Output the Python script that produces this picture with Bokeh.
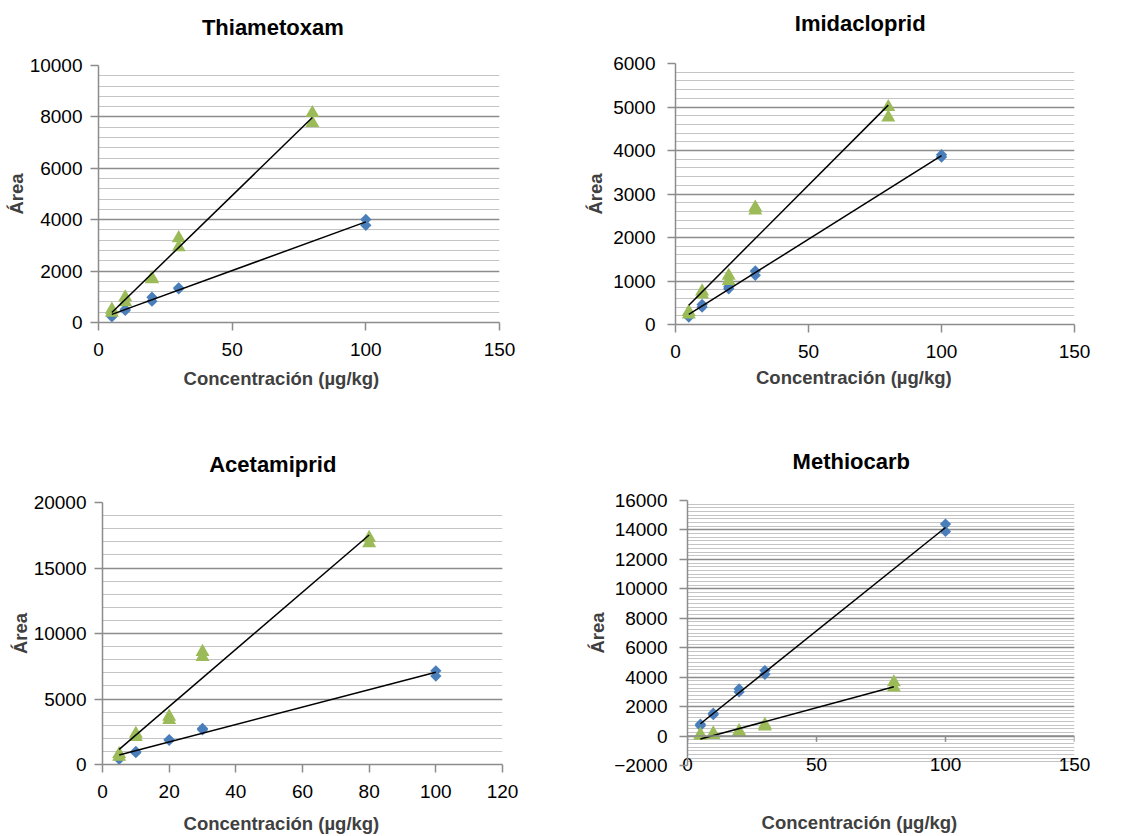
import numpy as np
from bokeh.plotting import figure
from bokeh.layouts import column, row
from bokeh.models import Range1d, SingleIntervalTicker, Title, Span
from bokeh.embed import file_html
from bokeh.resources import INLINE

# ---------------- data ----------------
conc_a = [5, 5, 10, 10, 20, 20, 30, 30, 100, 100]   # blue diamonds
conc_b = [5, 5, 10, 10, 20, 20, 30, 30, 80, 80]     # green triangles

thia_a = [220, 300, 470, 520, 830, 985, 1310, 1350, 3780, 4010]
thia_b = [380, 500, 790, 980, 1680, 1720, 2930, 3280, 7760, 8150]

imid_a = [170, 240, 400, 460, 820, 870, 1130, 1230, 3850, 3905]
imid_b = [230, 290, 690, 760, 1000, 1120, 2620, 2690, 4760, 5000]

acet_a = [400, 550, 900, 1000, 1850, 1900, 2650, 2750, 6750, 7150]
acet_b = [600, 800, 2100, 2350, 3400, 3650, 8200, 8600, 16900, 17300]

meth_a = [700, 800, 1450, 1550, 3000, 3200, 4200, 4450, 13900, 14400]
meth_b = [20, 100, 80, 180, 250, 330, 650, 760, 3300, 3650]

titles = ["Thiametoxam", "Imidacloprid", "Acetamiprid", "Methiocarb"]
x_label = "Concentración (µg/kg)"
y_label = "Área"

# ---------------- style ----------------
FONT = "Liberation Sans"
BLUE = "#4a7ebb"
GREEN = "#9bbb59"
MAJOR = "#8c8c8c"
MINOR = "#c4c4c4"
AXIS = "#8c8c8c"


def spacer(px):
    return Title(text=" ", text_font_size="1px", standoff=max(px - 3, 0))


def make_panel(title, ya, yb, xmax, xstep, ymin, ymax, ystep, nminor,
               size, borders, ystandoff, title_off, xlab_off, gaps,
               xlab_standoff=0, axis_at_zero=False):
    w, h = size
    left, right, top, bottom = borders
    p = figure(width=w, height=h, output_backend="svg", toolbar_location=None,
               x_range=Range1d(0, xmax), y_range=Range1d(ymin, ymax),
               min_border_left=left, min_border_right=right,
               min_border_top=top, min_border_bottom=bottom)
    p.outline_line_color = None
    p.xgrid.grid_line_color = None
    xt = SingleIntervalTicker(interval=xstep, num_minor_ticks=0)
    yt = SingleIntervalTicker(interval=ystep, num_minor_ticks=nminor)
    p.xaxis.ticker = xt
    p.yaxis.ticker = yt
    p.ygrid.ticker = yt
    p.ygrid.grid_line_color = MAJOR
    p.ygrid.grid_line_width = 1.5
    p.ygrid.minor_grid_line_color = MINOR
    p.ygrid.minor_grid_line_width = 1.2
    for ax in (p.xaxis, p.yaxis):
        ax.axis_line_color = AXIS
        ax.axis_line_width = 1.5
        ax.major_tick_line_color = AXIS
        ax.major_tick_line_width = 1.5
        ax.major_tick_in = 0
        ax.major_tick_out = 8
        ax.minor_tick_line_color = None
        ax.major_label_text_font = FONT
        ax.major_label_text_font_size = "19px"
        ax.major_label_text_color = "#000000"
    p.yaxis.major_label_standoff = ystandoff
    p.xaxis.major_label_standoff = 12

    if axis_at_zero:
        p.xaxis.axis_line_color = None
        p.xaxis.major_tick_line_color = None
        p.xaxis.major_tick_out = 0
        p.xaxis.major_label_standoff = -8
        p.add_layout(Span(location=0, dimension="width", line_color=AXIS, line_width=1.5))
        ticks = list(range(0, xmax + 1, xstep))
        p.segment(x0=ticks, y0=[0] * len(ticks), x1=ticks, y1=[-0.022 * (ymax - ymin)] * len(ticks),
                  line_color=AXIS, line_width=1.5)

    p.scatter(conc_a, ya, marker="square", angle=np.pi / 4, size=8,
              fill_color=BLUE, line_color=None)
    p.scatter(conc_b, yb, marker="triangle", size=14,
              fill_color=GREEN, line_color=None)
    for xs, ys in ((conc_a, ya), (conc_b, yb)):
        k, b = np.polyfit(xs, ys, 1)
        x0, x1 = min(xs), max(xs)
        p.line([x0, x1], [k * x0 + b, k * x1 + b], line_color="black", line_width=1.5)

    gap_top, gap_bottom, gap_left = gaps
    p.add_layout(spacer(gap_top), "above")
    p.add_layout(Title(text=title, align="left", offset=title_off, standoff=0,
                       text_font=FONT, text_font_size="22px", text_font_style="bold",
                       text_color="black"), "above")
    p.add_layout(spacer(gap_bottom), "below")
    p.add_layout(Title(text=x_label, align="left", offset=xlab_off, standoff=xlab_standoff,
                       text_font=FONT, text_font_size="18.5px", text_font_style="bold",
                       text_color="#404040"), "below")
    if gap_left > 3:
        p.add_layout(spacer(gap_left), "left")
    p.add_layout(Title(text=y_label, align="center", standoff=0,
                       text_font=FONT, text_font_size="18.5px", text_font_style="bold",
                       text_color="#404040"), "left")
    return p


p1 = make_panel(titles[0], thia_a, thia_b, 150, 50, 0, 10000, 2000, 5,
                (560, 420), (98, 61, 65, 98), 8, 103.4, 85.1, (26, 7, 0))
p2 = make_panel(titles[1], imid_a, imid_b, 150, 50, 0, 6000, 1000, 5,
                (560, 420), (115, 46, 63, 96), 12, 119.3, 80.5, (28, 4, 4.5))
p3 = make_panel(titles[2], acet_a, acet_b, 120, 20, 0, 20000, 5000, 5,
                (560, 415), (102, 58, 82, 71), 8, 106.7, 81.1, (26, 13.5, 0),
                xlab_standoff=-8)
p4 = make_panel(titles[3], meth_a, meth_b, 150, 50, -2000, 16000, 2000, 8,
                (560, 415), (127, 46, 80, 70), 12, 105.1, 74.1, (26.7, 39.5, 4.3),
                xlab_standoff=-8, axis_at_zero=True)

layout = column(row(column(p1), column(p2)), row(column(p3), column(p4)))
open("out.html", "w").write(file_html(layout, INLINE))
